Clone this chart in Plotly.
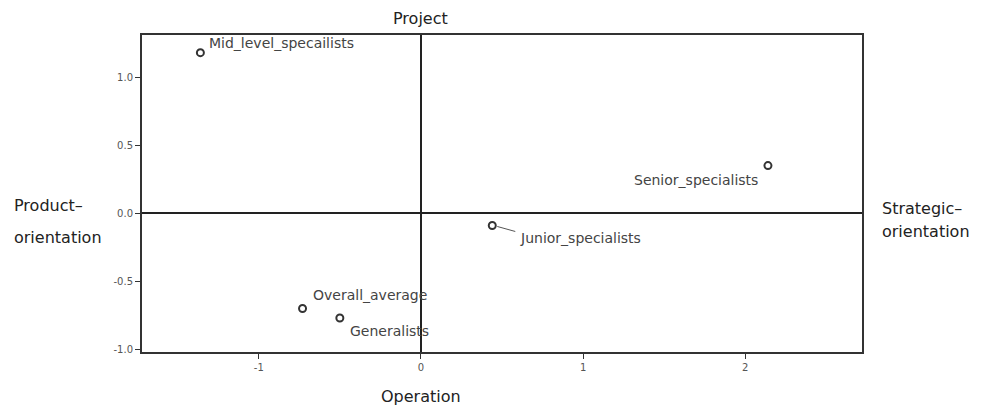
import plotly.graph_objects as go

groups = ["Mid_level_specailists", "Senior_specialists", "Junior_specialists",
          "Overall_average", "Generalists"]
dim1 = [-1.36, 2.14, 0.44, -0.73, -0.50]
dim2 = [1.18, 0.35, -0.09, -0.70, -0.77]

x_ticks = [-1, 0, 1, 2]
x_tick_labels = ["-1", "0", "1", "2"]
y_ticks = [-1.0, -0.5, 0.0, 0.5, 1.0]
y_tick_labels = ["-1.0", "-0.5", "0.0", "0.5", "1.0"]

FONT = "DejaVu Sans"
fig = go.Figure()
fig.add_trace(go.Scatter(
    x=dim1, y=dim2, mode="markers",
    marker=dict(symbol="circle-open", size=7, color="#333333", line=dict(width=2)),
    hoverinfo="text", text=groups, showlegend=False))

# label offsets (pixels) and anchors
offsets = {
    "Mid_level_specailists": (7, 10, "left"),
    "Senior_specialists": (-8, -14, "right"),
    "Junior_specialists": (26, -13, "left"),
    "Overall_average": (8, 13, "left"),
    "Generalists": (8, -13, "left"),
}
for g, xv, yv in zip(groups, dim1, dim2):
    dx, dy, anc = offsets[g]
    fig.add_annotation(x=xv, y=yv, text=g, showarrow=False, xanchor=anc,
                       yanchor="middle", xshift=dx, yshift=dy,
                       font=dict(family=FONT, size=14, color="#444444"))

# connector for Junior_specialists
fig.add_shape(type="line", xref="x", yref="y", xsizemode="pixel", ysizemode="pixel",
              xanchor=dim1[2], yanchor=dim2[2], x0=5, y0=-1, x1=23, y1=-6,
              line=dict(color="#555555", width=1))

common = dict(ticks="outside", ticklen=5, tickcolor="#333333", showline=True,
              mirror=True, linecolor="#333333", linewidth=2, showgrid=False,
              zeroline=True, zerolinecolor="#222222", zerolinewidth=1.5,
              tickfont=dict(family=FONT, size=10, color="#555555"))
fig.update_xaxes(range=[-1.72, 2.72], tickvals=x_ticks, ticktext=x_tick_labels, **common)
fig.update_yaxes(range=[-1.02, 1.31], tickvals=y_ticks, ticktext=y_tick_labels, **common)

dfont = dict(family=FONT, size=16, color="#222222")
fig.add_annotation(x=0, xref="x", y=1, yref="paper", text="Project", showarrow=False,
                   yanchor="bottom", yshift=5, font=dfont)
fig.add_annotation(x=0, xref="x", y=0, yref="paper", text="Operation", showarrow=False,
                   yanchor="top", yshift=-33, font=dfont)
fig.add_annotation(x=0, xref="paper", y=0, yref="y", text="Product–",
                   showarrow=False, xanchor="left", xshift=-130, yshift=8, font=dfont)
fig.add_annotation(x=0, xref="paper", y=0, yref="y", text="orientation",
                   showarrow=False, xanchor="left", xshift=-130, yshift=-24, font=dfont)
fig.add_annotation(x=1, xref="paper", y=0, yref="y", text="Strategic–",
                   showarrow=False, xanchor="left", xshift=18, yshift=5, font=dfont)
fig.add_annotation(x=1, xref="paper", y=0, yref="y", text="orientation",
                   showarrow=False, xanchor="left", xshift=18, yshift=-18, font=dfont)

fig.update_layout(width=980, height=403, margin=dict(l=134, r=126, t=27, b=59),
                  plot_bgcolor="white", paper_bgcolor="white")
fig.write_html("out.html")
